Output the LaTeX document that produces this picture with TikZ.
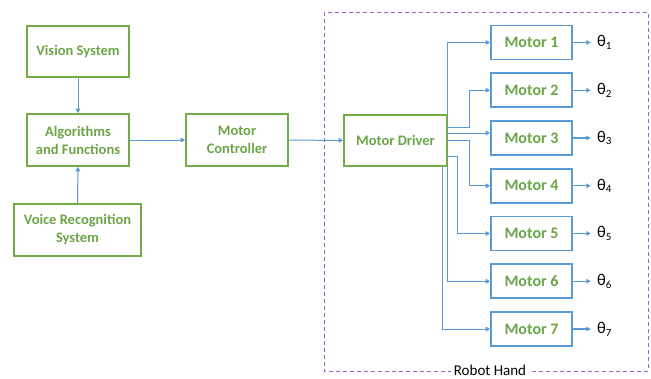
\documentclass[tikz,border=0pt]{standalone}
\usepackage{fontspec}
\setmainfont{Carlito}
\usetikzlibrary{arrows.meta,calc}
\definecolor{gline}{HTML}{70AD47}
\definecolor{gtext}{HTML}{6BA547}
\definecolor{bline}{HTML}{5B9BD5}
\definecolor{hand}{HTML}{9B5FD0}
\tikzset{
  gbox/.style={draw=gline, line width=1.6pt, text=gtext, align=center, inner sep=0pt,
    font=\bfseries\fontsize{14.5}{18}\selectfont},
  mbox/.style={draw=bline, line width=1.6pt, text=gtext, inner sep=0pt,
    minimum width=81pt, minimum height=34pt, font=\bfseries\fontsize{16}{18}\selectfont},
  conn/.style={draw=bline, line width=1pt, -{Triangle[length=4.5pt,width=4.5pt]}},
  outarr/.style={draw=bline, line width=1.2pt, -{Triangle[length=4.5pt,width=4.5pt]}},
  theta/.style={anchor=west, inner sep=0pt, font=\fontsize{16.5}{18}\selectfont},
}
\newcommand{\thetasub}[1]{θ\raisebox{-0.35ex}{\fontsize{11}{12}\selectfont #1}}
\begin{document}
\begin{tikzpicture}[x=1pt,y=-1pt]
\useasboundingbox[fill=white] (0,0) rectangle (651,378);

% robot hand frame
\draw[hand, line width=1pt, dash pattern=on 4pt off 3pt] (324,12) rectangle (648,371);
\node[fill=white, inner xsep=3pt, inner ysep=1pt, font=\fontsize{15}{16}\selectfont] (hand) at (490,370.5) {Robot Hand};

% left blocks
\node[gbox, minimum width=102pt, minimum height=51pt] (vis) at (78,51.5) {Vision System};
\node[gbox, minimum width=102pt, minimum height=52pt] (alg) at (78,140) {Algorithms\\and Functions};
\node[gbox, minimum width=127pt, minimum height=52pt] (voice) at (77.5,230) {Voice Recognition\\System};
\node[gbox, minimum width=102pt, minimum height=52pt] (mc) at (237,140) {Motor\\Controller};
\node[gbox, minimum width=103pt, minimum height=51pt] (drv) at (395.5,140.5) {Motor Driver};

\draw[conn] (vis) -- (alg);
\draw[conn] (voice) -- (alg);
\draw[conn] (alg) -- (mc);
\draw[conn] (mc) -- (drv);

% motors and their outputs
\foreach \i in {1,...,7}{
  \node[mbox] (m\i) at (531.5,{42.5+47.75*(\i-1)}) {Motor \i};
  \coordinate (t\i) at ($(m\i.east)+(18,0)$);
  \draw[outarr] (m\i.east) -- (t\i);
  \node[theta] (th\i) at ($(t\i)+(6,0)$) {\thetasub{\i}};
}

% branch points on the driver
\coordinate (o2) at (447,127);
\coordinate (o3) at (447,133);
\coordinate (o5) at (447,156);
\coordinate (o7) at (442,166);

\draw[conn] (drv.north east) |- (m1.west);
\draw[conn] (o2) -- (469,127) |- (m2.west);
\draw[conn] (o3) -- (o3 -| m3.west);
\draw[conn] (drv.east) -- (469,140.5) |- (m4.west);
\draw[conn] (o5) -- (457,156) |- (m5.west);
\draw[conn] (drv.south east) |- (m6.west);
\draw[conn] (o7) |- (m7.west);
\end{tikzpicture}
\end{document}
